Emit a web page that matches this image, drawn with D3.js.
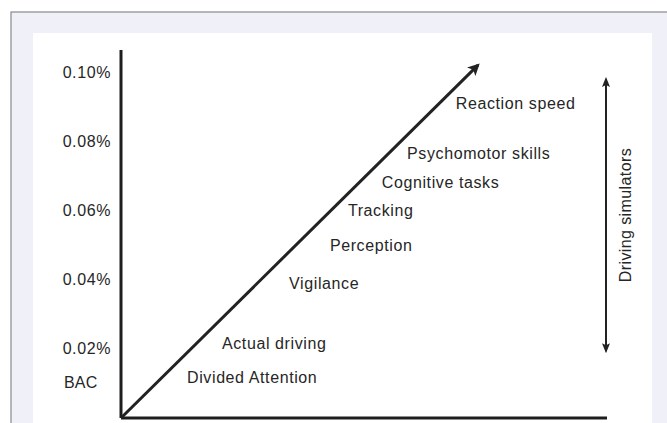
<!DOCTYPE html>
<html>
<head>
<meta charset="utf-8">
<script src="https://cdn.jsdelivr.net/npm/d3@7"></script>
<style>
  body { margin: 0; background: #fff; }
  svg text { font-family: "Liberation Sans", Arial, sans-serif; fill: #262626; }
</style>
</head>
<body>
<svg id="chart" width="667" height="423"></svg>
<script>
// BAC levels (y axis) and the tasks placed along the arrow
var bacTicks = [0.02, 0.04, 0.06, 0.08, 0.10];
var tickLabels = ["0.02%", "0.04%", "0.06%", "0.08%", "0.10%"];
var tasks = ["Divided Attention", "Actual driving", "Vigilance", "Perception",
             "Tracking", "Cognitive tasks", "Psychomotor skills", "Reaction speed"];
var taskBAC = [0.0116, 0.0217, 0.039, 0.050, 0.060, 0.068, 0.0766, 0.091];
var taskShift = [0.0191, 0.0292, 0.0486, 0.0604, 0.0656, 0.0754, 0.0827, 0.0968];
// the big arrow, and the driving simulators range
var arrowStart = [0, 0], arrowEnd = [0.1032, 0.102];
var simRange = [0.0193, 0.098];
var simX = 0.1405;

var svg = d3.select("#chart");

// frame + panel
svg.append("rect").attr("x", 11).attr("y", 12).attr("width", 660).attr("height", 420)
    .attr("fill", "#f0f1f8").attr("stroke", "#8a8a8a").attr("stroke-width", 1.2);
svg.append("rect").attr("x", 33).attr("y", 33).attr("width", 619).attr("height", 400)
    .attr("fill", "#ffffff");

var x = d3.scaleLinear().domain([0, 0.1405]).range([121, 607]);
var y = d3.scaleLinear().domain([0, 0.10]).range([418, 72]);

var defs = svg.append("defs");
defs.append("marker").attr("id", "head").attr("viewBox", "0 0 10 10")
    .attr("refX", 8).attr("refY", 5).attr("markerWidth", 4).attr("markerHeight", 4)
    .attr("orient", "auto-start-reverse")
  .append("path").attr("d", "M0,0 L10,5 L0,10 L2.5,5 Z").attr("fill", "#222");
defs.append("marker").attr("id", "head2").attr("viewBox", "0 0 10 10")
    .attr("refX", 8).attr("refY", 5).attr("markerWidth", 5).attr("markerHeight", 5)
    .attr("orient", "auto-start-reverse")
  .append("path").attr("d", "M0,1 L10,5 L0,9 L2,5 Z").attr("fill", "#222");

// axes
var yAxis = d3.axisLeft(y).tickValues(bacTicks).tickSize(0)
    .tickFormat(function(d, i){ return tickLabels[i]; });
var gy = svg.append("g").attr("transform", "translate(" + x(0) + ",0)").call(yAxis);
gy.select(".domain").attr("d", "M0," + y(0) + "V50").attr("stroke", "#1e1e1e").attr("stroke-width", 3);
gy.selectAll("text").attr("x", -10).attr("font-size", 16).attr("letter-spacing", 0.6)
    .attr("font-family", "Liberation Sans, Arial, sans-serif").attr("fill", "#262626");

svg.append("text").attr("x", 64).attr("y", y(0.0104)).attr("dy", "0.35em")
    .attr("font-size", 16).attr("letter-spacing", 0.2).text("BAC");

svg.append("line").attr("x1", x(0)).attr("x2", x(0.1405)).attr("y1", y(0)).attr("y2", y(0))
    .attr("stroke", "#1e1e1e").attr("stroke-width", 3);

// main arrow
svg.append("line")
    .attr("x1", x(arrowStart[0])).attr("y1", y(arrowStart[1]))
    .attr("x2", x(arrowEnd[0])).attr("y2", y(arrowEnd[1]))
    .attr("stroke", "#222").attr("stroke-width", 3)
    .attr("marker-end", "url(#head)");

// task labels
svg.selectAll(".task").data(tasks).enter().append("text")
    .attr("class", "task")
    .attr("x", function(d, i){ return x(taskShift[i]); })
    .attr("y", function(d, i){ return y(taskBAC[i]); })
    .attr("dy", "0.35em")
    .attr("font-size", 16).attr("letter-spacing", 0.6)
    .text(function(d){ return d; });

// driving simulators range
svg.append("line")
    .attr("x1", x(simX) - 1).attr("x2", x(simX) - 1)
    .attr("y1", y(simRange[0])).attr("y2", y(simRange[1]))
    .attr("stroke", "#222").attr("stroke-width", 2)
    .attr("marker-start", "url(#head2)").attr("marker-end", "url(#head2)");

var midY = (y(simRange[0]) + y(simRange[1])) / 2;
svg.append("text")
    .attr("transform", "translate(" + (x(simX) + 24) + "," + midY + ") rotate(-90)")
    .attr("text-anchor", "middle")
    .attr("font-size", 16).attr("letter-spacing", 0.4)
    .text("Driving simulators");
</script>
</body>
</html>
